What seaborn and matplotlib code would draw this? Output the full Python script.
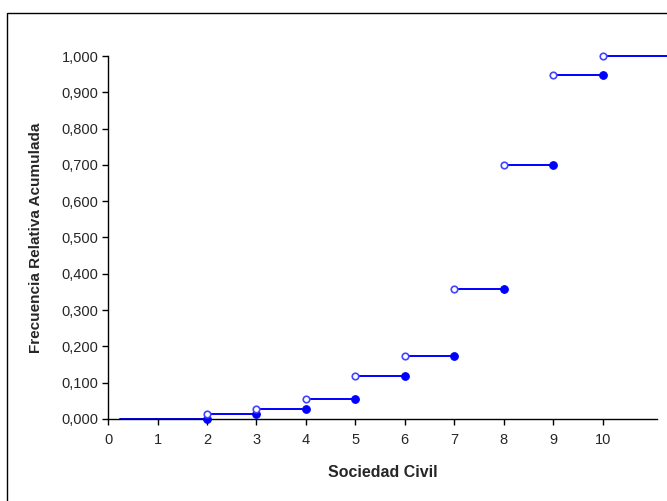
import matplotlib
matplotlib.use('Agg')
import matplotlib.pyplot as plt
import seaborn as sns
import pandas as pd
from matplotlib.patches import Rectangle
from matplotlib.ticker import FuncFormatter

# valores
x_values = [2, 3, 4, 5, 6, 7, 8, 9, 10]
cum_freq = [0.014, 0.027, 0.055, 0.118, 0.174, 0.357, 0.700, 0.948, 1.000]
x_start = 0.25
x_end = 11.3
x_ticks = list(range(0, 11))
y_ticks = [0.0, 0.1, 0.2, 0.3, 0.4, 0.5, 0.6, 0.7, 0.8, 0.9, 1.0]

blue = '#0000FF'

# tramos horizontales de la funcion escalonada
starts = [x_start] + x_values
ends = x_values + [x_end]
levels = [0.0] + cum_freq
rows = []
for i, (a, b, lv) in enumerate(zip(starts, ends, levels)):
    rows.append({'seg': i, 'x': a, 'y': lv})
    rows.append({'seg': i, 'x': b, 'y': lv})
segs = pd.DataFrame(rows)

open_pts = pd.DataFrame({'x': x_values, 'y': cum_freq})
closed_pts = pd.DataFrame({'x': x_values, 'y': levels[:-1]})

sns.set_style('white')
plt.rcParams['font.family'] = ['Liberation Sans', 'DejaVu Sans']

fig = plt.figure(figsize=(6.67, 5.01), dpi=100)
ax = fig.add_axes([0.162, 0.164, 0.823, 0.724])

sns.lineplot(data=segs, x='x', y='y', units='seg', estimator=None,
             color=blue, linewidth=1.4, ax=ax, clip_on=False)
sns.scatterplot(data=closed_pts, x='x', y='y', color=blue, s=30,
                edgecolor=blue, linewidth=0.8, ax=ax, zorder=4, clip_on=False)
sns.scatterplot(data=open_pts, x='x', y='y', color='white', s=22,
                edgecolor='#4444FF', linewidth=1.2, ax=ax, zorder=5, clip_on=False)

ax.set_xlim(0, 11.1)
ax.set_ylim(0, 1.0)
ax.set_xticks(x_ticks)
ax.set_yticks(y_ticks)
ax.yaxis.set_major_formatter(FuncFormatter(lambda v, p: f'{v:.3f}'.replace('.', ',')))

for s in ['top', 'right']:
    ax.spines[s].set_visible(False)
for s in ['left', 'bottom']:
    ax.spines[s].set_color('black')
    ax.spines[s].set_linewidth(1.0)

ax.tick_params(axis='both', direction='out', length=4, width=1, color='black',
               labelsize=10.5, left=True, bottom=True)
ax.tick_params(axis='y', pad=3)
ax.tick_params(axis='x', pad=6)
ax.set_xlabel('Sociedad Civil', fontsize=11.5, fontweight='bold', labelpad=13)
ax.set_ylabel('Frecuencia Relativa Acumulada', fontsize=11, fontweight='bold', labelpad=13)

# marco exterior del grafico
fig.patches.append(Rectangle((0.0105, -0.02), 1.1, 0.994, transform=fig.transFigure,
                             fill=False, edgecolor='black', linewidth=1.0))

fig.savefig('out.png', dpi=100)
plt.close(fig)
